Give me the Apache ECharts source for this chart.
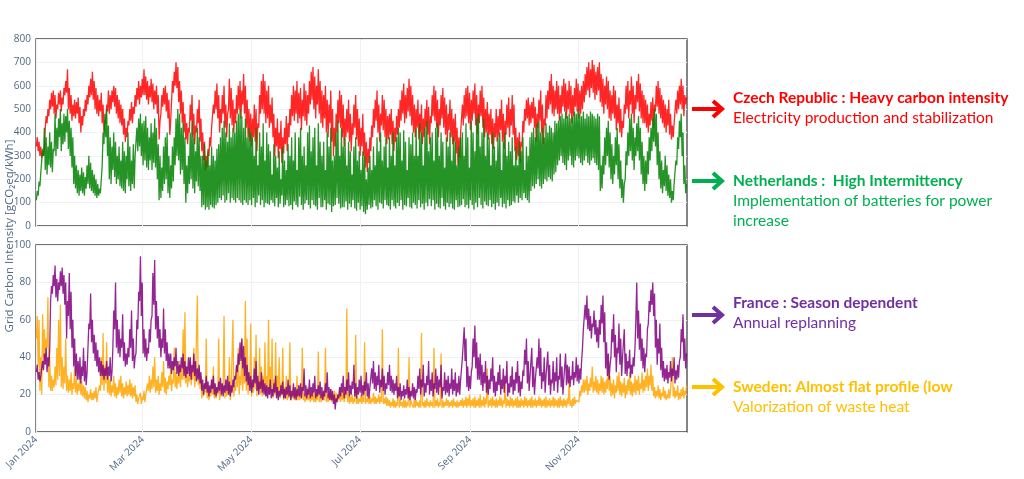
<!DOCTYPE html>
<html><head><meta charset="utf-8">
<script src="https://cdn.jsdelivr.net/npm/echarts@6/dist/echarts.min.js"></script>
<style>html,body{margin:0;padding:0;background:#fff}#c{width:1024px;height:479px}</style>
</head><body><div id="c"></div>
<script>
// Daily high / low readings (one pair per day of 2024, day 0 = Jan 1)
const czHi=[380,360,340,320,330,470,500,540,570,580,560,520,570,580,550,590,620,670,590,560,520,540,530,550,510,470,500,540,560,600,630,660,620,590,560,540,570,520,450,520,580,560,580,600,590,560,540,520,500,460,420,450,500,530,510,560,590,620,600,630,670,640,620,600,630,610,580,600,560,450,560,590,600,570,540,450,620,660,700,680,620,580,530,480,440,420,520,560,480,430,500,540,460,400,360,300,330,380,420,520,580,610,560,500,560,600,520,480,630,590,540,500,560,600,620,580,650,600,540,500,480,460,520,500,440,560,620,650,620,580,600,520,550,480,420,460,400,450,380,420,470,440,500,560,600,580,620,570,590,540,610,580,560,620,660,680,640,600,670,620,580,560,600,540,520,580,500,420,480,540,580,560,520,460,500,540,480,440,520,560,500,460,420,480,400,360,330,380,430,500,540,580,520,480,560,540,500,470,480,500,450,420,470,500,540,580,610,560,590,630,600,560,520,500,540,480,520,460,500,540,510,470,560,600,580,540,500,560,590,550,520,480,540,500,460,480,420,380,400,520,560,590,600,570,540,580,610,560,520,580,600,550,500,530,480,500,460,440,500,470,500,540,480,450,520,550,500,560,520,420,380,400,360,450,500,540,550,520,530,550,510,480,540,580,520,460,560,580,620,650,600,580,620,600,560,600,630,610,580,620,600,560,590,630,610,580,600,620,650,680,700,670,710,690,660,680,700,650,630,600,640,620,580,560,600,580,520,550,500,450,520,600,620,580,640,600,560,620,650,610,580,560,540,520,480,530,550,520,600,620,590,560,540,520,500,540,480,430,440,540,580,600,630,600,560,550];
const czLo=[340,320,300,290,300,420,440,470,500,510,480,460,500,520,490,520,560,570,500,480,450,470,460,480,440,400,430,470,490,520,550,560,540,500,480,470,490,440,400,440,490,480,500,530,510,480,460,440,430,390,360,380,430,450,440,480,510,540,520,550,560,560,540,520,550,530,500,520,480,370,480,510,520,490,460,390,530,570,600,590,530,480,440,400,370,350,400,450,380,350,400,440,360,320,280,240,250,300,340,420,480,500,460,400,440,480,420,380,500,460,430,400,440,480,500,460,520,480,420,380,360,340,380,360,320,420,480,500,480,440,460,420,440,380,300,340,290,330,270,310,350,320,380,430,470,450,480,440,460,410,470,450,430,480,520,540,500,460,520,480,440,420,460,400,380,440,360,300,340,400,440,420,380,340,380,400,360,320,390,420,370,340,300,340,300,250,230,270,320,380,420,450,400,360,430,410,380,350,370,390,350,320,360,390,420,450,480,440,460,490,470,430,400,380,420,370,400,350,380,420,390,350,440,470,450,420,380,430,460,420,390,360,410,380,350,360,310,260,290,400,430,460,470,440,410,450,480,430,390,440,470,420,380,400,370,390,350,330,380,360,380,410,360,330,390,420,380,430,390,320,280,300,270,340,400,450,460,430,440,460,420,360,420,450,400,350,430,460,500,520,480,470,500,480,450,480,510,490,460,500,480,440,470,510,490,460,480,500,530,560,580,550,590,570,540,560,580,530,510,480,520,500,460,450,480,460,410,440,400,380,420,480,500,460,520,480,440,500,530,490,460,440,440,420,400,430,450,420,490,510,480,460,440,420,400,430,390,370,380,440,480,500,520,500,470,520];
const nlHi=[150,190,230,330,420,380,340,400,360,330,480,420,460,500,440,480,470,500,450,420,380,300,260,240,220,250,230,210,260,300,270,240,220,200,180,160,200,400,480,500,430,380,340,400,360,300,340,280,360,320,300,400,340,280,350,300,420,460,480,440,450,470,420,380,440,400,460,420,350,300,250,340,380,400,300,260,340,380,460,500,480,420,440,380,260,300,400,450,380,320,420,380,300,300,350,280,320,260,340,300,280,330,350,380,420,450,400,360,440,380,420,400,450,480,500,470,420,460,380,420,400,
380,300,420,260,400,340,440,280,400,350,
320,220,350,300,250,320,200,340,280,240,350,300,
380,280,400,240,380,420,300,340,260,400,
430,320,380,420,260,440,360,300,
360,240,400,340,420,280,300,
400,450,300,420,340,
380,260,360,320,220,340,380,280,320,240,320,
300,200,250,300,240,
340,260,380,320,400,280,340,380,250,
380,300,400,260,380,420,
400,280,410,360,240,380,350,400,300,
420,300,440,400,260,420,450,320,380,
400,280,420,440,300,400,360,250,380,340,400,280,380,360,260,340,380,
400,300,440,380,250,450,400,320,460,480,340,400,460,300,400,
380,260,400,340,280,380,400,240,360,400,300,360,320,380,260,
340,260,360,320,380,240,340,300,380,
400,420,380,440,450,400,420,380,440,400,430,420,400,450,440,450,470,480,460,490,470,480,460,470,490,480,500,480,470,490,460,480,470,490,480,470,460,480,470,260,300,380,420,450,400,350,300,380,420,350,280,200,180,320,400,460,480,420,380,440,470,420,360,300,280,320,380,420,460,500,480,400,320,280,240,300,260,220,200,150,180,280,380,450,480,400,260,180];
const nlLo=[110,130,170,230,300,240,220,260,250,230,320,300,330,380,320,350,360,400,330,300,250,180,160,140,130,150,140,130,160,180,160,150,140,130,120,130,140,260,350,380,300,200,180,240,210,180,200,170,160,150,140,200,170,150,180,160,300,320,340,300,260,280,250,240,280,240,270,250,200,110,120,150,180,200,140,120,160,190,260,300,280,220,240,180,100,140,180,200,160,140,190,170,150,80,90,70,80,70,90,80,75,90,100,120,110,130,100,110,140,100,120,110,100,120,110,100,90,110,100,90,110,
90,120,80,100,130,90,110,80,100,95,
90,110,100,85,120,80,95,130,80,90,110,85,
90,70,105,90,80,125,90,70,95,110,
90,75,110,90,85,70,120,80,
80,110,70,95,90,60,85,
90,120,95,75,80,
80,105,70,95,80,110,75,65,100,70,85,
60,50,70,90,75,
80,110,85,70,100,95,75,110,90,
85,70,110,85,75,100,
85,110,70,90,85,120,80,75,100,
90,75,110,80,95,70,100,85,115,
85,110,70,95,80,75,120,85,70,100,80,95,75,70,110,80,85,
90,115,80,90,75,110,90,70,100,80,120,90,75,105,90,
85,110,80,95,70,100,85,120,80,95,75,110,85,90,105,
100,130,100,120,110,140,120,110,100,
150,170,160,180,200,170,160,180,200,190,210,200,190,220,230,260,280,300,270,260,240,280,300,260,250,280,300,290,270,260,280,300,270,260,280,290,270,260,240,150,160,220,260,300,250,200,180,220,260,200,160,120,100,200,260,300,320,280,240,300,320,280,220,180,150,180,220,280,320,360,340,260,200,160,140,170,150,130,120,100,110,180,260,330,380,300,180,140];
const frHi=[36,32,30,38,42,45,40,44,78,84,89,82,80,86,88,84,80,70,85,75,60,50,42,38,40,35,45,38,32,58,74,60,52,48,44,40,38,36,34,38,35,40,32,65,80,60,55,50,63,48,42,45,55,65,50,40,60,75,94,80,55,50,45,55,60,85,92,70,62,55,50,66,55,48,42,42,38,40,45,38,36,40,42,38,35,40,40,36,42,38,34,36,32,28,26,30,27,25,28,30,26,24,27,29,26,25,28,30,27,25,28,30,36,42,48,50,46,40,36,32,30,28,34,38,30,27,32,28,26,25,24,28,23,26,30,24,22,25,27,23,24,28,25,22,26,24,23,25,26,24,34,25,23,28,24,26,30,23,25,27,24,22,26,32,24,23,22,20,18,20,24,26,30,24,28,32,25,27,36,26,24,28,30,25,27,32,26,24,34,38,32,30,36,28,34,30,26,32,36,30,28,26,30,24,26,22,25,23,28,24,22,26,24,23,30,34,28,36,26,30,38,28,32,26,34,30,28,36,24,32,28,30,26,34,28,32,26,30,28,40,56,50,35,30,32,50,57,48,40,42,36,32,38,30,28,34,40,30,27,32,36,28,34,30,38,26,30,35,28,32,38,30,27,33,44,50,38,30,45,35,28,40,50,45,32,40,30,43,36,28,38,32,40,30,42,35,28,42,36,35,30,38,32,40,36,34,38,55,68,73,66,62,58,65,60,56,60,68,73,64,48,42,36,55,63,52,45,58,50,40,55,42,38,44,36,40,45,80,65,58,50,45,42,55,70,76,80,74,60,50,58,45,38,34,36,32,38,34,40,33,36,38,55,63,50,42];
const frLo=[32,28,27,30,33,36,32,35,70,74,78,72,70,76,78,74,68,50,62,55,45,35,30,28,28,26,30,27,25,45,55,48,42,38,35,32,30,30,28,30,28,30,27,45,55,45,42,40,45,38,35,36,40,45,38,34,42,55,70,62,42,40,38,42,48,62,68,55,50,45,40,45,42,38,34,34,31,33,35,31,30,32,34,30,29,31,30,28,32,30,27,28,26,22,20,23,21,19,21,23,20,19,21,22,20,19,21,22,20,19,21,24,28,32,36,38,34,30,27,25,22,21,24,26,22,20,23,21,20,19,18,20,18,19,21,18,17,19,20,18,18,20,19,17,19,18,17,19,19,18,22,19,18,20,18,19,21,18,19,20,18,17,19,21,18,17,17,15,12,16,18,19,21,18,20,22,19,20,23,19,18,20,21,19,20,22,19,18,24,26,23,22,25,21,24,22,20,23,25,22,21,20,22,18,19,17,19,18,20,18,17,19,18,17,21,23,20,24,19,21,25,20,22,19,23,21,20,24,18,22,20,21,19,23,20,22,19,21,20,28,40,38,24,22,23,35,40,34,28,28,25,22,26,21,20,23,27,21,19,22,25,20,23,21,26,19,21,24,20,22,26,21,19,23,30,36,26,22,30,24,20,27,34,30,23,27,21,29,25,20,26,22,27,21,28,24,20,28,25,26,24,28,25,29,27,26,28,45,56,60,55,54,50,56,52,48,45,52,58,48,34,30,28,40,48,40,32,42,36,30,40,31,30,34,29,31,35,60,50,44,38,34,32,40,58,64,68,62,45,36,42,33,29,27,28,26,29,27,30,26,28,29,40,48,38,34];
const seHi=[62,60,40,63,55,50,72,40,30,28,35,45,60,68,40,35,50,30,28,32,26,35,28,26,30,27,25,24,22,20,23,21,22,24,20,25,40,53,35,48,30,28,25,30,26,24,28,30,26,24,27,25,28,26,24,25,20,18,21,19,22,20,26,30,28,35,40,28,30,26,32,38,29,27,30,35,28,45,32,30,38,34,55,64,35,30,40,32,45,30,73,35,30,22,25,50,24,22,28,35,23,24,50,22,26,62,23,25,40,22,60,25,35,45,30,50,40,70,50,30,58,26,40,52,28,45,35,30,48,30,60,35,50,28,48,30,40,26,45,24,30,22,48,20,24,21,30,20,22,45,21,20,24,21,20,22,21,20,43,21,20,22,45,20,21,23,20,22,21,20,24,21,22,20,66,22,19,20,18,52,19,18,20,19,48,18,20,19,18,21,19,18,20,19,55,18,19,18,17,16,18,17,16,45,17,16,18,17,16,40,17,16,18,17,16,17,53,16,17,18,16,17,16,45,17,18,16,42,17,16,18,17,16,17,18,16,17,16,17,18,17,19,18,20,17,18,19,17,18,20,17,19,18,34,17,18,19,17,18,17,19,18,17,27,18,17,19,18,17,18,19,17,18,17,19,18,17,18,19,17,18,17,19,18,17,18,19,17,18,17,19,18,17,18,19,17,18,17,18,28,17,18,19,17,18,22,25,28,28,30,26,29,35,27,30,28,26,30,29,27,28,38,30,26,28,25,30,32,27,26,29,25,28,32,27,26,30,28,30,26,32,28,30,34,30,36,30,24,22,25,23,21,24,22,20,23,22,40,24,22,25,21,23,24,22,25];
const seLo=[50,35,22,20,40,38,45,24,22,22,24,25,28,30,24,23,26,22,21,22,20,23,21,20,22,20,19,18,17,16,18,17,17,18,16,19,22,25,22,26,21,20,19,21,19,18,20,21,19,18,20,19,20,19,18,19,16,15,17,15,17,16,21,22,21,23,24,21,22,20,22,24,21,20,23,25,22,26,24,23,26,24,28,28,26,24,27,25,28,24,30,25,23,18,19,21,18,17,19,20,18,18,20,17,19,22,18,19,20,17,22,19,22,24,20,25,22,26,22,20,24,19,21,23,19,22,20,19,21,19,22,20,21,18,20,19,20,18,20,17,18,17,18,17,18,17,18,17,17,18,17,16,17,17,16,17,16,16,17,16,16,17,17,16,16,17,16,17,16,16,17,16,17,16,18,16,15,16,15,16,15,15,16,15,16,15,16,15,15,16,15,15,16,15,16,15,15,14,14,13,14,13,13,14,13,14,13,13,13,14,13,15,13,13,14,13,13,14,13,13,14,13,14,13,13,14,13,14,13,13,14,14,13,14,13,14,13,13,14,14,13,14,13,14,13,14,13,13,14,13,13,14,13,15,13,14,13,14,13,13,14,14,13,15,13,14,13,14,13,14,13,13,13,14,13,14,13,14,13,13,14,13,14,14,13,14,13,13,14,13,14,13,14,13,13,14,13,14,13,15,14,13,14,15,16,16,19,21,21,22,20,22,24,21,22,21,20,22,21,20,21,23,22,19,20,18,21,22,20,19,21,18,20,22,20,19,21,20,22,20,23,21,22,24,22,25,22,19,18,19,18,17,19,18,17,18,18,22,19,18,19,17,18,19,18,20];

const tickMonths=[0,2,4,6,8,10];
const monthNames=['Jan','Feb','Mar','Apr','May','Jun','Jul','Aug','Sep','Oct','Nov','Dec'];

const DAY=86400000, HOUR=3600000, T0=Date.UTC(2024,0,1), T1=Date.UTC(2024,11,31,23);
function build(hi,lo){const out=[];const n=Math.min(hi.length,lo.length);
  for(let i=0;i<n;i++){out.push([T0+i*DAY+5*HOUR,lo[i]]);out.push([T0+i*DAY+17*HOUR,hi[i]]);}
  return out;}
const tickVals=tickMonths.map(m=>Date.UTC(2024,m,1));
const AX='#506784', GRIDC='#eef1f5', FONT='"Open Sans", sans-serif';

function xAx(gi,showLabels){return {type:'value',gridIndex:gi,min:T0,max:T1,
  axisLine:{show:false},axisTick:{show:false,customValues:tickVals},
  axisLabel:{show:showLabels,customValues:tickVals,rotate:45,margin:6,color:AX,fontSize:10,fontFamily:FONT,
    formatter:v=>monthNames[new Date(v).getUTCMonth()]+' '+new Date(v).getUTCFullYear()},
  splitLine:{show:true,lineStyle:{color:GRIDC,width:1}}};}
function yAx(gi,max,interval){return {type:'value',gridIndex:gi,min:0,max:max,interval:interval,
  axisLine:{show:false},axisTick:{show:false},
  axisLabel:{color:AX,fontSize:10,fontFamily:FONT,margin:5},
  splitLine:{show:true,lineStyle:{color:GRIDC,width:1}}};}
function ln(name,data,color,xi,yi){return {name,type:'line',xAxisIndex:xi,yAxisIndex:yi,data,symbol:'none',showSymbol:false,
  lineStyle:{color,width:1.3,opacity:0.85},itemStyle:{color},emphasis:{disabled:true},animation:false};}

const notes=[
  {c:'#ff0000',ay:109,lines:[['Czech Republic : Heavy carbon intensity',98,true],['Electricity production and stabilization',118,false]]},
  {c:'#00b050',ay:181,lines:[['Netherlands :  High Intermittency',181,true],['Implementation of batteries for power',201,false],['increase',221,false]]},
  {c:'#7030a0',ay:315,lines:[['France : Season dependent',303,true],['Annual replanning',323,false]]},
  {c:'#ffc000',ay:387,lines:[['Sweden: Almost flat profile (low',387,true],['Valorization of waste heat',407,false]]}
];
const graphics=[];
notes.forEach(n=>{
  graphics.push({type:'polyline',shape:{points:[[692,n.ay],[721,n.ay]]},style:{stroke:n.c,lineWidth:4,fill:null}});
  graphics.push({type:'polyline',shape:{points:[[713,n.ay-8],[722,n.ay],[713,n.ay+8]]},style:{stroke:n.c,lineWidth:4,fill:null,lineJoin:'miter'}});
  n.lines.forEach(l=>graphics.push({type:'text',x:733,y:l[1],style:{text:l[0],fill:n.c,font:(l[2]?'bold ':'')+'15.5px Lato, sans-serif',textVerticalAlign:'middle',textAlign:'left'}}));
});
graphics.push({type:'text',x:10,y:236,rotation:Math.PI/2,style:{text:'Grid Carbon Intensity [gCO₂eq/kWh]',fill:AX,font:'11.5px "Open Sans", sans-serif',textAlign:'center',textVerticalAlign:'middle'}});

const chart=echarts.init(document.getElementById('c'),null,{renderer:'canvas'});
chart.setOption({
  animation:false,backgroundColor:'#fff',
  grid:[{left:36,top:39,width:651,height:187,show:true,borderColor:'#444',borderWidth:1.3,backgroundColor:'transparent'},
        {left:36,top:245,width:651,height:187,show:true,borderColor:'#444',borderWidth:1.3,backgroundColor:'transparent'}],
  xAxis:[xAx(0,false),xAx(1,true)],
  yAxis:[yAx(0,800,100),yAx(1,100,20)],
  series:[ln('Czech Republic',build(czHi,czLo),'#ff0000',0,0),
          ln('Netherlands',build(nlHi,nlLo),'#008000',0,0),
          ln('Sweden',build(seHi,seLo),'#ffa500',1,1),
          ln('France',build(frHi,frLo),'#800080',1,1)],
  graphic:graphics
});
</script></body></html>
